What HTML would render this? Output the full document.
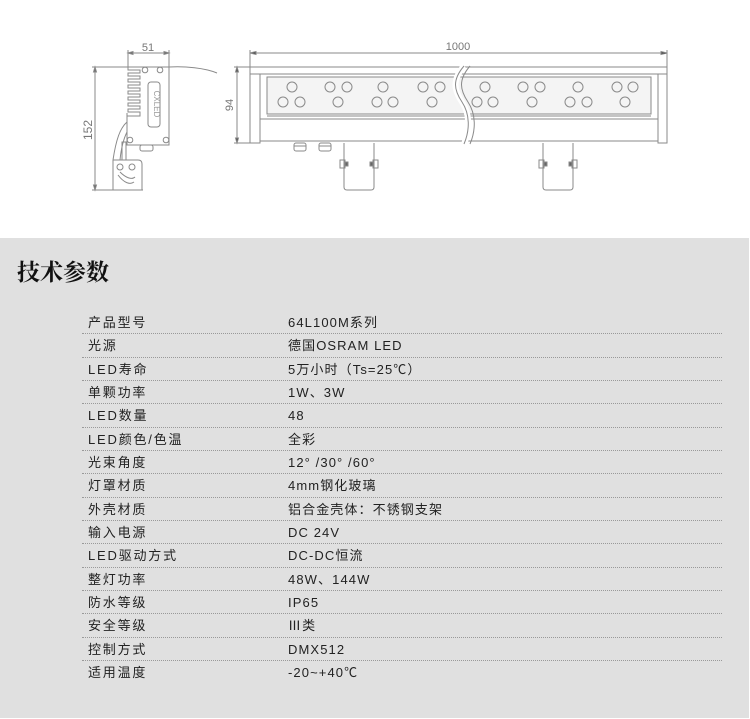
<!DOCTYPE html>
<html><head><meta charset="utf-8"><style>
body{margin:0;width:750px;height:719px;background:#fff;position:relative;overflow:hidden;font-family:"Liberation Sans","Noto Sans CJK SC",sans-serif}
#gray{position:absolute;left:0;top:238px;width:749px;height:480px;background:#e0e0e0}
h1{position:absolute;left:17px;top:254px;margin:0;font:bold 23px "Noto Serif CJK SC","Liberation Serif",serif;color:#111;letter-spacing:0px}
#tbl{position:absolute;left:82px;top:311px;width:640px}
.r{height:22.35px;border-bottom:1px dotted #999;position:relative;font-size:13px;color:#222;letter-spacing:1.8px;line-height:23px}
.r:last-child{border-bottom:none}
.r span{position:absolute;top:0}
.a{left:6px}.b{left:206px;letter-spacing:1.1px}
svg{position:absolute;left:0;top:0}
</style></head><body>
<svg width="750" height="238" viewBox="0 0 750 238" fill="none" stroke="#8a8a8a" stroke-width="1">
<line x1="128" y1="50" x2="128" y2="67"/><line x1="169" y1="50" x2="169" y2="67"/>
<line x1="128" y1="53" x2="169" y2="53"/>
<path d="M128 53l5-1.5v3z M169 53l-5-1.5v3z" fill="#666"/>
<text x="148" y="51" font-size="11" fill="#777" stroke="none" text-anchor="middle" font-family="Liberation Sans">51</text>
<line x1="92" y1="67" x2="128" y2="67"/><line x1="92" y1="190" x2="103" y2="190"/>
<line x1="95" y1="67" x2="95" y2="190"/>
<path d="M95 67l-1.5 5h3z M95 190l-1.5-5h3z" fill="#666"/>
<text transform="translate(92,130) rotate(-90)" font-size="12" fill="#777" stroke="none" text-anchor="middle" font-family="Liberation Sans">152</text>
<path d="M142 67H169V145H127V113"/>
<path d="M142 67H128v3h12v3h-12v3h12v3h-12v3h12v3h-12v3h12v3h-12v3h12v3h-12v3h12v3h-12v3h12v3h-12v3h12v4h-13"/>
<rect x="148" y="82" width="12" height="45" rx="3"/>
<text transform="translate(154,104) rotate(90)" font-size="8" fill="#999" stroke="none" text-anchor="middle" font-family="Liberation Sans">CXLED</text>
<circle cx="145" cy="70" r="2.8"/><circle cx="160" cy="70" r="2.8"/><circle cx="130" cy="140" r="2.8"/><circle cx="166" cy="140" r="2.8"/>
<path d="M169 67C185 66 205 68 217 73"/>
<rect x="140" y="145" width="13" height="6" rx="2"/>
<path d="M127 122C120 128 116 140 113 160M127 132C123 140 121 150 120 160"/>
<rect x="122" y="142" width="4" height="18"/>
<path d="M113 160H138Q142 160 142 164V190M113 160V190M103 190H143"/>
<circle cx="120" cy="167" r="3"/><circle cx="132" cy="167" r="3"/>
<path d="M118 175c6 8 12 10 16 7M120 172c6 6 12 8 15 5"/>
<line x1="250" y1="50" x2="250" y2="75"/><line x1="667" y1="50" x2="667" y2="67"/>
<line x1="250" y1="53" x2="667" y2="53"/>
<path d="M250 53l6-1.5v3z M667 53l-6-1.5v3z" fill="#444"/>
<text x="458" y="50" font-size="11" fill="#777" stroke="none" text-anchor="middle" font-family="Liberation Sans">1000</text>
<line x1="234" y1="67" x2="250" y2="67"/><line x1="234" y1="143" x2="250" y2="143"/>
<line x1="237" y1="67" x2="237" y2="143"/>
<path d="M237 67l-1.5 5h3z M237 143l-1.5-5h3z" fill="#444"/>
<text transform="translate(233,105) rotate(-90)" font-size="11" fill="#777" stroke="none" text-anchor="middle" font-family="Liberation Sans">94</text>
<rect x="250" y="67" width="417" height="7"/>
<rect x="250" y="74" width="10" height="69"/>
<rect x="658" y="74" width="9" height="69"/>
<line x1="260" y1="141" x2="658" y2="141"/>
<rect x="267" y="77" width="384" height="37" fill="#f4f4f4"/>
<line x1="267" y1="116" x2="651" y2="116"/>
<line x1="260" y1="119" x2="658" y2="119"/>
<g>
<circle cx="292" cy="87" r="5"/><circle cx="330" cy="87" r="5"/><circle cx="347" cy="87" r="5"/><circle cx="383" cy="87" r="5"/><circle cx="423" cy="87" r="5"/><circle cx="440" cy="87" r="5"/>
<circle cx="283" cy="102" r="5"/><circle cx="300" cy="102" r="5"/><circle cx="338" cy="102" r="5"/><circle cx="377" cy="102" r="5"/><circle cx="393" cy="102" r="5"/><circle cx="432" cy="102" r="5"/>
<circle cx="485" cy="87" r="5"/><circle cx="523" cy="87" r="5"/><circle cx="540" cy="87" r="5"/><circle cx="578" cy="87" r="5"/><circle cx="617" cy="87" r="5"/><circle cx="633" cy="87" r="5"/>
<circle cx="477" cy="102" r="5"/><circle cx="493" cy="102" r="5"/><circle cx="532" cy="102" r="5"/><circle cx="570" cy="102" r="5"/><circle cx="587" cy="102" r="5"/><circle cx="625" cy="102" r="5"/>
</g>
<path d="M464 66C452 80 454 90 462 102S470 130 464 144" stroke="#fff" stroke-width="6"/>
<path d="M464 66C452 80 454 90 462 102S470 130 464 144"/>
<path d="M470 66C458 80 460 90 468 102S476 130 470 144"/>
<rect x="294" y="143" width="12" height="8" rx="2"/><line x1="294" y1="146" x2="306" y2="146"/>
<rect x="319" y="143" width="12" height="8" rx="2"/><line x1="319" y1="146" x2="331" y2="146"/>
<g id="br"><path d="M344 143V187q0 3 3 3H371q3 0 3-3V143"/>
<rect x="340" y="160" width="5" height="8"/><rect x="373" y="160" width="5" height="8"/>
<rect x="345" y="162" width="3" height="4" fill="#666"/><rect x="370" y="162" width="3" height="4" fill="#666"/></g>
<use href="#br" transform="translate(199,0)"/>
</svg>
<div id="gray"></div>
<h1>技术参数</h1>
<div id="tbl">
<div class="r"><span class="a">产品型号</span><span class="b">64L100M系列</span></div>
<div class="r"><span class="a">光源</span><span class="b">德国OSRAM LED</span></div>
<div class="r"><span class="a">LED寿命</span><span class="b">5万小时（Ts=25℃）</span></div>
<div class="r"><span class="a">单颗功率</span><span class="b">1W、3W</span></div>
<div class="r"><span class="a">LED数量</span><span class="b">48</span></div>
<div class="r"><span class="a">LED颜色/色温</span><span class="b">全彩</span></div>
<div class="r"><span class="a">光束角度</span><span class="b">12° /30° /60°</span></div>
<div class="r"><span class="a">灯罩材质</span><span class="b">4mm钢化玻璃</span></div>
<div class="r"><span class="a">外壳材质</span><span class="b">铝合金壳体：不锈钢支架</span></div>
<div class="r"><span class="a">输入电源</span><span class="b">DC 24V</span></div>
<div class="r"><span class="a">LED驱动方式</span><span class="b">DC-DC恒流</span></div>
<div class="r"><span class="a">整灯功率</span><span class="b">48W、144W</span></div>
<div class="r"><span class="a">防水等级</span><span class="b">IP65</span></div>
<div class="r"><span class="a">安全等级</span><span class="b">Ⅲ类</span></div>
<div class="r"><span class="a">控制方式</span><span class="b">DMX512</span></div>
<div class="r"><span class="a">适用温度</span><span class="b">-20~+40℃</span></div>
</div>
</body></html>
